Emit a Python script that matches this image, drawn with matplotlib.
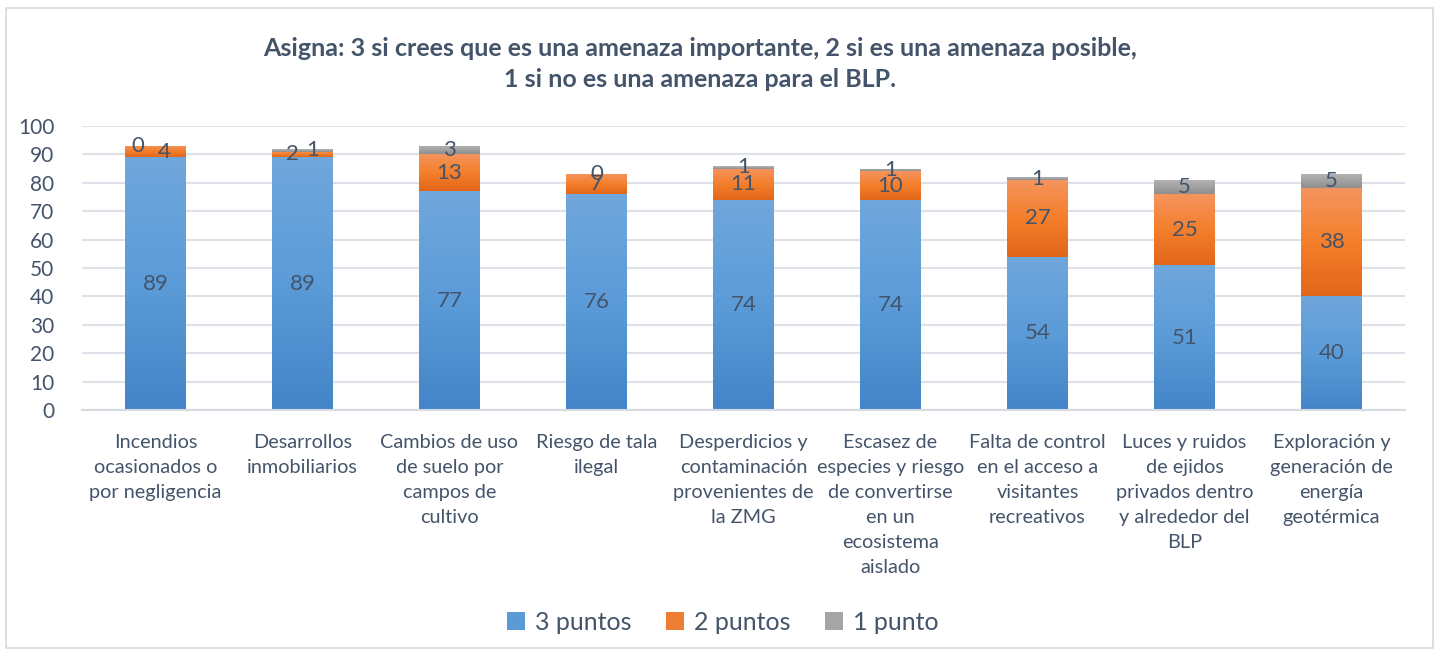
import numpy as np
import matplotlib
matplotlib.use("Agg")
import matplotlib.pyplot as plt
from matplotlib.colors import LinearSegmentedColormap
from matplotlib.patches import Rectangle, Patch

plt.rcParams['font.family'] = ['Lato', 'DejaVu Sans']

categories = [
    "Incendios\nocasionados o\npor negligencia",
    "Desarrollos\ninmobiliarios",
    "Cambios de uso\nde suelo por\ncampos de\ncultivo",
    "Riesgo de tala\nilegal",
    "Desperdicios y\ncontaminación\nprovenientes de\nla ZMG",
    "Escasez de\nespecies y riesgo\nde convertirse\nen un\necosistema\naislado",
    "Falta de control\nen el acceso a\nvisitantes\nrecreativos",
    "Luces y ruidos\nde ejidos\nprivados dentro\ny alrededor del\nBLP",
    "Exploración y\ngeneración de\nenergía\ngeotérmica",
]
tres_puntos = [89, 89, 77, 76, 74, 74, 54, 51, 40]
dos_puntos = [4, 2, 13, 7, 11, 10, 27, 25, 38]
un_punto = [0, 1, 3, 0, 1, 1, 1, 5, 5]
series_names = ["3 puntos", "2 puntos", "1 punto"]
yticks = [0, 10, 20, 30, 40, 50, 60, 70, 80, 90, 100]
title = ("Asigna: 3 si crees que es una amenaza importante, 2 si es una amenaza posible,\n"
         "1 si no es una amenaza para el BLP.")

text_color = "#44546A"
grads = [
    ["#4485c8", "#5b9bd8", "#70a7dc"],   # bottom -> top
    ["#e2661a", "#f47f2b", "#f4945e"],
    ["#8e8e8e", "#a3a3a3", "#b4b4b4"],
]
solid = ["#5b9bd5", "#ed7d31", "#a5a5a5"]

fig = plt.figure(figsize=(14.37, 6.54), dpi=100)
fig.patches.append(Rectangle((6/1437, 6/654), 1427/1437, 640/654, transform=fig.transFigure,
                             fill=False, edgecolor="#d9d9d9", linewidth=1.2))
ax = fig.add_axes([82/1437, 1-410/654, (1405-82)/1437, (410-126)/654])

x = np.arange(len(categories))
width = 0.41
data = [tres_puntos, dos_puntos, un_punto]
bottoms = np.zeros(len(categories))
grad_img = np.linspace(1, 0, 256).reshape(-1, 1)
# label x-nudges (in data units) for crowded small segments
nudges = {(0, 2): -0.12, (0, 1): 0.06, (1, 1): -0.07, (1, 2): 0.07}
for s, vals in enumerate(data):
    cmap = LinearSegmentedColormap.from_list(f"g{s}", grads[s])
    bars = ax.bar(x, vals, width, bottom=bottoms, facecolor="none", edgecolor="none", zorder=2)
    for i, (b, v) in enumerate(zip(bars, vals)):
        if v > 0:
            x0, y0 = b.get_x(), b.get_y()
            im = ax.imshow(grad_img, cmap=cmap, aspect="auto", zorder=2,
                           extent=[x0, x0 + b.get_width(), y0, y0 + b.get_height()],
                           interpolation="bilinear", vmin=0, vmax=1)
            im.set_clip_path(b)
        ax.text(x[i] + nudges.get((i, s), 0), bottoms[i] + v / 2, str(v), ha="center", va="center",
                fontsize=16, color=text_color, zorder=4)
    bottoms = bottoms + np.array(vals)

ax.set_xlim(-0.5, len(categories) - 0.5)
ax.set_ylim(0, 100)
ax.set_yticks(yticks)
ax.set_yticklabels([str(t) for t in yticks], fontsize=15, color=text_color)
ax.set_xticks(x)
ax.set_xticklabels(categories, fontsize=14.3, color=text_color, linespacing=1.57, va="top")
ax.tick_params(axis="both", length=0)
ax.tick_params(axis="x", pad=17)
ax.tick_params(axis="y", pad=20)
ax.grid(axis="y", color="#dde2e8", linewidth=1.5, zorder=0)
ax.set_axisbelow(True)
for sp in ["top", "right", "left"]:
    ax.spines[sp].set_visible(False)
ax.spines["bottom"].set_color("#d6dbe2")
ax.spines["bottom"].set_linewidth(1.5)

fig.text(0.487, 1 - 64/654, title, ha="center", va="center", fontsize=18, fontweight="bold",
         color=text_color, linespacing=1.4)

handles = [Patch(facecolor=solid[k], edgecolor="none") for k in range(3)]
fig.legend(handles, series_names, loc="center", bbox_to_anchor=(0.503, 1 - 622/654), ncol=3,
           frameon=False, fontsize=18, handlelength=0.7, handleheight=0.7, handletextpad=0.4,
           columnspacing=1.4, labelcolor=text_color)

fig.savefig("out.png", dpi=100)
